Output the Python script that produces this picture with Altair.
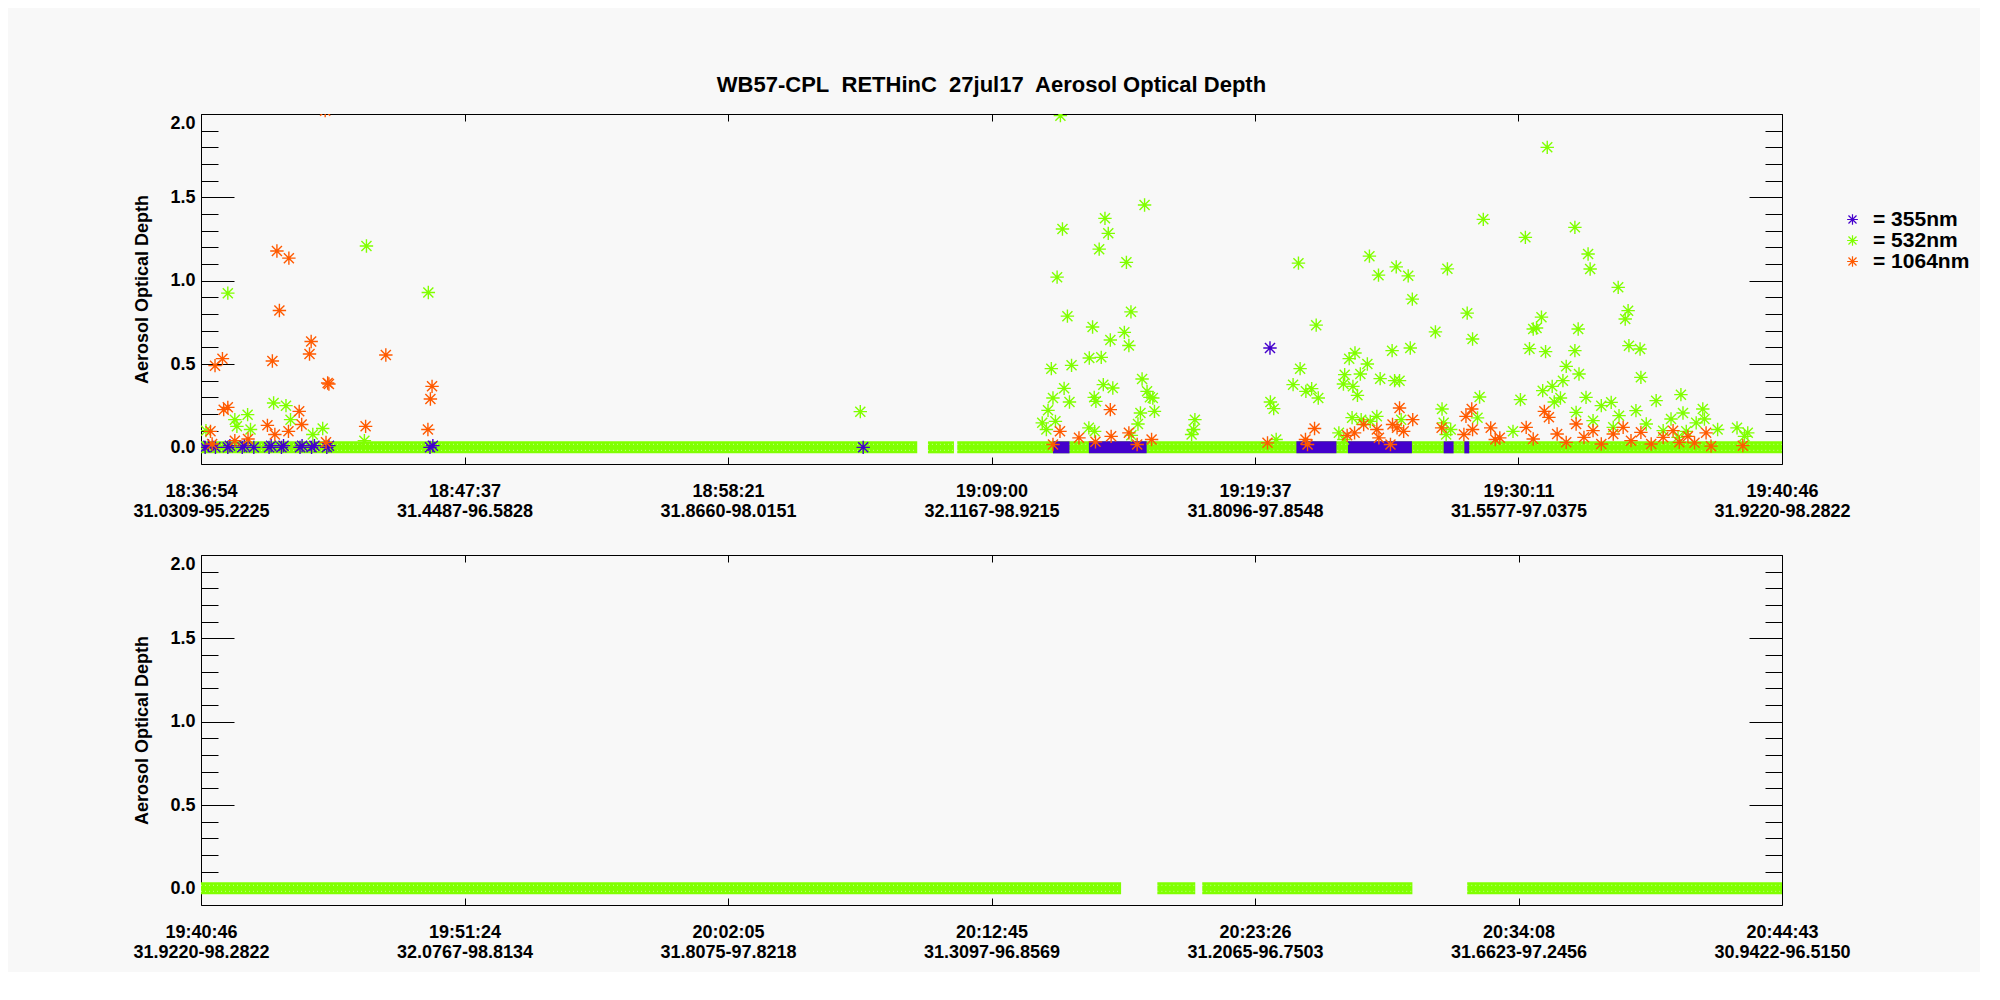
import altair as alt
import pandas as pd

FONT = "Liberation Sans"
GREEN = "#80FF00"
BLUE = "#4400CC"
ORANGE = "#FF5A00"
BG = "#F8F8F8"
STAR = "M-1,0L1,0M0,-1L0,1M-0.75,-0.75L0.75,0.75M-0.75,0.75L0.75,-0.75"

PW, PH = 1581, 350
Y_MIN, Y_MAX = -0.1, 2.0

TITLE = "WB57-CPL\u00a0 RETHinC\u00a0 27jul17\u00a0 Aerosol Optical Depth"
Y_TITLE = "Aerosol Optical Depth"
WAVELENGTHS = ["355nm", "532nm", "1064nm"]
COLORS = [BLUE, GREEN, ORANGE]

# ---- top panel: 18:36:54 - 19:40:46 (elapsed seconds) ----
top_span = 3832
top_times = ["18:36:54", "18:47:37", "18:58:21", "19:09:00", "19:19:37", "19:30:11", "19:40:46"]
top_locs = ["31.0309-95.2225", "31.4487-96.5828", "31.8660-98.0151", "32.1167-98.9215",
            "31.8096-97.8548", "31.5577-97.0375", "31.9220-98.2822"]

# ---- bottom panel: 19:40:46 - 20:44:43 ----
bot_span = 3837
bot_times = ["19:40:46", "19:51:24", "20:02:05", "20:12:45", "20:23:26", "20:34:08", "20:44:43"]
bot_locs = ["31.9220-98.2822", "32.0767-98.8134", "31.8075-97.8218", "31.3097-96.8569",
            "31.2065-96.7503", "31.6623-97.2456", "30.9422-96.5150"]

# stretches where AOD is 0 (seconds from panel start)
top_g0_start = [0, 1762, 1833]
top_g0_end = [1736, 1825, 3832]
top_b0_start = [2065, 2152, 2655, 2780, 3012, 3062]
top_b0_end = [2105, 2292, 2752, 2935, 3036, 3074]
bot_g0_start = [0, 2321, 2430, 3073]
bot_g0_end = [2233, 2413, 2940, 3837]

# 532 nm non-zero values (top panel)
g_t = [12, 65, 82, 87, 113, 120, 176, 206, 217, 271, 295, 396, 401, 551,
       1598,
       2039, 2049, 2053, 2061, 2065, 2071, 2075, 2083, 2088, 2092, 2100, 2105, 2110, 2152, 2153,
       2161, 2165, 2166, 2169, 2177, 2182, 2187, 2191, 2199, 2204, 2210, 2238, 2243, 2249, 2254,
       2255, 2271, 2277, 2281, 2287, 2293, 2300, 2307, 2311, 2401, 2406, 2409,
       2592, 2600, 2606, 2647, 2660, 2664, 2678, 2692, 2703, 2708, 2758, 2769, 2770, 2772, 2783,
       2790, 2792, 2797, 2803, 2810, 2812, 2827, 2832, 2834, 2850, 2854, 2858, 2887, 2893, 2897,
       2905, 2909, 2926, 2931, 2936, 2992, 3008, 3012, 3018, 3021, 3029, 3069, 3082, 3094, 3099,
       3108, 3180, 3198, 3210, 3220, 3229, 3237, 3249, 3252, 3259, 3263, 3275, 3280, 3295, 3301,
       3309, 3330, 3330, 3333, 3338, 3340, 3357, 3362, 3367, 3374, 3394, 3418, 3423, 3435, 3437,
       3452, 3459, 3461, 3478, 3488, 3490, 3503, 3527, 3544, 3563, 3580, 3587, 3592, 3600, 3624,
       3640, 3644, 3676, 3723, 3741, 3749]
g_aod = [0.10, 0.925, 0.166, 0.126, 0.196, 0.107, 0.266, 0.25, 0.166, 0.077, 0.113, 0.04, 1.208, 0.929,
         0.214,
         0.147, 0.107, 0.222, 0.472, 0.296, 0.156, 1.021, 1.99, 1.31, 0.354, 0.787, 0.272, 0.492, 0.117, 0.536,
         0.722, 0.30, 0.096, 0.276, 1.189, 0.54, 0.376, 1.374, 1.284, 0.644, 0.356, 0.69, 1.11, 0.611, 0.813,
         0.072, 0.14, 0.206, 0.41, 1.454, 0.336, 0.30, 0.296, 0.216, 0.077, 0.107, 0.166,
         0.272, 0.232, 0.047, 0.376, 1.105, 0.472, 0.336, 0.352, 0.733, 0.296, 0.087, 0.38, 0.047, 0.436, 0.532,
         0.178, 0.366, 0.566, 0.312, 0.44, 0.166, 0.50, 1.147, 0.156, 0.186, 1.033, 0.412, 0.58, 0.40, 1.083,
         0.40, 0.166, 1.029, 0.596, 0.889, 0.693, 0.23, 0.147, 0.077, 1.071, 0.107, 0.805, 0.65, 0.177, 0.302,
         1.368, 0.096, 0.286, 1.26, 0.592, 0.71, 0.716, 0.781, 0.34, 0.574, 1.80, 0.366, 0.272, 0.296, 0.40,
         0.486, 1.32, 0.58, 0.21, 0.71, 0.44, 0.30, 1.16, 1.07, 0.16, 0.25, 0.27, 0.12, 0.96, 0.19,
         0.77, 0.82, 0.61, 0.22, 0.59, 0.42, 0.14, 0.28, 0.10, 0.17, 0.06, 0.316, 0.206, 0.096, 0.147,
         0.23, 0.17, 0.107, 0.117, 0.066, 0.087]

# 355 nm values (isolated zero readings on the left, plus one high value)
b_t = [10, 18, 35, 65, 70, 100, 105, 128, 165, 170, 195, 200, 240, 245, 268, 275, 305, 310,
       555, 562, 1605, 2591]
b_aod = [0.0, 0.01, 0.0, 0.0, 0.01, 0.0, 0.01, 0.0, 0.0, 0.01, 0.0, 0.01, 0.0, 0.01, 0.0, 0.01, 0.0, 0.01,
         0.0, 0.01, 0.0, 0.596]

# 1064 nm non-zero values
o_t = [23, 27, 34, 52, 55, 65, 82, 114, 161, 173, 179, 184, 190, 212, 213, 238, 244, 263, 267, 301,
       303, 307, 310, 399, 448, 550, 556, 560,
       2065, 2082, 2128, 2168, 2204, 2206, 2249, 2269, 2304,
       2585, 2677, 2682, 2699, 2778, 2796, 2818, 2850, 2855, 2883, 2888, 2899, 2905, 2915, 2937,
       3007, 3061, 3066, 3080, 3082, 3126, 3137, 3148, 3212, 3229, 3256, 3267, 3287, 3309, 3333,
       3352, 3374, 3394, 3423, 3447, 3466, 3490, 3515, 3544, 3568, 3583, 3604, 3620, 3648, 3660, 3737]
o_aod = [0.096, 0.02, 0.49, 0.532, 0.226, 0.24, 0.04, 0.05, 0.132, 0.518, 0.077, 1.178, 0.821, 0.096,
         1.135, 0.216, 0.137, 0.56, 0.635, 2.02, 0.03, 0.386, 0.38, 0.126, 0.554, 0.107, 0.29, 0.366,
         0.017, 0.096, 0.057, 0.033, 0.226, 0.066, 0.087, 0.017, 0.047,
         0.027, 0.047, 0.017, 0.113, 0.072, 0.087, 0.137, 0.107, 0.057, 0.017, 0.137, 0.117, 0.236,
         0.096, 0.166, 0.117, 0.077, 0.186, 0.23, 0.107, 0.117, 0.047, 0.057, 0.12, 0.05, 0.216, 0.18,
         0.08, 0.03, 0.14, 0.06, 0.10, 0.02, 0.08, 0.12, 0.04, 0.09, 0.02, 0.06, 0.10, 0.03, 0.066,
         0.027, 0.087, 0.007, 0.01]

MAJOR = [0.0, 0.5, 1.0, 1.5, 2.0]
MINOR = [round(0.1 * i, 1) for i in range(1, 20) if i % 5]

color_scale = alt.Scale(domain=WAVELENGTHS, range=COLORS)


def bands(starts, ends):
    return pd.DataFrame({"t0": starts, "t1": ends, "aod": [0.0] * len(starts)})


def band_layers(df, color, xs, ys, specks=True):
    enc = dict(x=alt.X("t0:Q", scale=xs, axis=None), x2="t1:Q",
               y=alt.Y("aod:Q", scale=ys, axis=None))
    out = [alt.Chart(df).mark_rule(strokeWidth=12, strokeCap="butt", color=color, clip=True).encode(**enc)]
    if specks:
        # the overlapping star glyphs leave rows of light specks in the band
        out += [alt.Chart(df).mark_rule(strokeWidth=1, strokeCap="butt", color="white", opacity=0.55,
                                        strokeDash=[1, 3], yOffset=off, clip=True).encode(**enc)
                for off in (-3, 3)]
    return out


def panel(span, times, locs, green0, blue0, points, title=None):
    step = span / 6.0
    tick_vals = [round(i * step, 3) for i in range(7)]
    xs = alt.Scale(domain=[0, span], nice=False, zero=False)
    ys = alt.Scale(domain=[Y_MIN, Y_MAX], nice=False, zero=False)
    arr = "[" + ",".join("['%s','%s']" % (a, b) for a, b in zip(times, locs)) + "]"
    label_expr = "%s[round(datum.value/%r)]" % (arr, step)

    layers = band_layers(bands(*green0), GREEN, xs, ys)
    if blue0 is not None:
        layers += band_layers(bands(*blue0), BLUE, xs, ys, specks=False)
    if points is not None:
        p = alt.Chart(points).mark_point(shape=STAR, filled=False, size=180, strokeWidth=1.4,
                                         opacity=1, clip=True).encode(
            x=alt.X("t:Q", scale=xs, axis=None),
            y=alt.Y("aod:Q", scale=ys, axis=None),
            color=alt.Color("wl:N", scale=color_scale, legend=alt.Legend(
                orient="none", legendX=1641, legendY=95, title=None,
                labelExpr="'= ' + datum.label", labelFontSize=21, labelFont=FONT,
                labelFontWeight="bold", labelColor="black", symbolType=STAR, symbolSize=115,
                symbolStrokeWidth=1.2, labelOffset=10, rowPadding=-2, padding=0)))
        layers.append(p)

    frame = pd.DataFrame({"t": [0, span], "aod": [Y_MIN, Y_MAX]})
    axis_specs = [
        (alt.Axis(orient="bottom", values=tick_vals, labelExpr=label_expr, ticks=False, tickSize=0,
                  labelFontSize=18, labelPadding=18, labelLineHeight=20, labelOverlap=False,
                  labelBound=False, labelFlush=False, title=None),
         alt.Axis(orient="left", values=MAJOR, format=".1f", ticks=False, tickSize=0,
                  labelFontSize=18, labelPadding=6, labelFlush=True, title=Y_TITLE,
                  titleFontSize=18, titlePadding=18)),
        (alt.Axis(orient="top", offset=-PH, values=tick_vals, tickSize=7, labels=False, title=None),
         alt.Axis(orient="right", offset=-PW, values=MAJOR, tickSize=33, labels=False, title=None)),
        (None,
         alt.Axis(orient="right", offset=-PW, values=MINOR, tickSize=17, labels=False, title=None)),
        (alt.Axis(orient="bottom", offset=-PH, values=tick_vals, tickSize=7, labels=False, title=None),
         alt.Axis(orient="left", offset=-PW, values=MAJOR, tickSize=33, labels=False, title=None)),
        (None,
         alt.Axis(orient="left", offset=-PW, values=MINOR, tickSize=17, labels=False, title=None)),
    ]
    for xa, ya in axis_specs:
        layers.append(alt.Chart(frame).mark_point(opacity=0).encode(
            x=alt.X("t:Q", scale=xs, axis=xa),
            y=alt.Y("aod:Q", scale=ys, axis=ya)))

    ch = alt.layer(*layers).resolve_axis(x="independent", y="independent").properties(width=PW, height=PH)
    if title is not None:
        ch = ch.properties(title=alt.TitleParams(text=title, fontSize=22, font=FONT, fontWeight="bold",
                                                 color="black", anchor="middle", frame="group", offset=14))
    return ch


pts = pd.concat([
    pd.DataFrame({"t": g_t, "aod": g_aod, "wl": "532nm"}),
    pd.DataFrame({"t": b_t, "aod": b_aod, "wl": "355nm"}),
    pd.DataFrame({"t": o_t, "aod": o_aod, "wl": "1064nm"}),
], ignore_index=True)

top = panel(top_span, top_times, top_locs, (top_g0_start, top_g0_end), (top_b0_start, top_b0_end), pts, TITLE)
bottom = panel(bot_span, bot_times, bot_locs, (bot_g0_start, bot_g0_end), None, None)

chart = alt.vconcat(top, bottom, spacing=91, bounds="flush").resolve_scale(
    x="independent", y="independent"
).properties(
    padding={"left": 124, "top": 65, "right": 10, "bottom": 10},
    background=BG,
).configure_view(
    stroke="black", strokeWidth=1
).configure_axis(
    labelFont=FONT, labelFontWeight="bold", labelColor="black",
    titleFont=FONT, titleFontWeight="bold", titleColor="black",
    tickColor="black", tickWidth=1, domain=False, grid=False
)

chart.save("out.html", embed_options={"renderer": "svg", "actions": False})
